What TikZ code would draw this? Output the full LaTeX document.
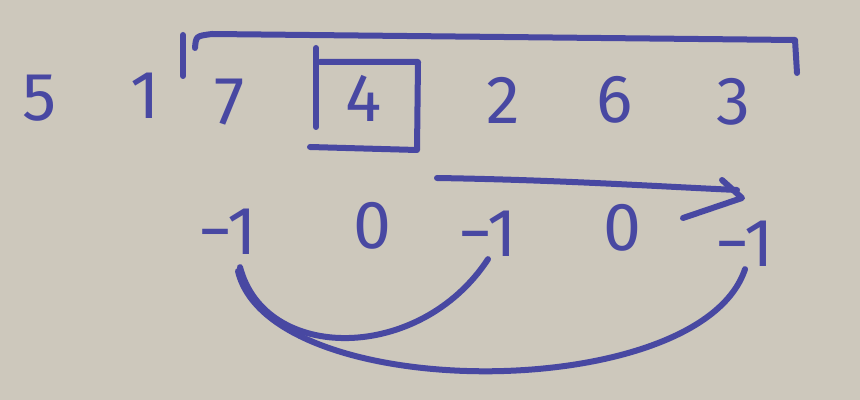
\documentclass[tikz,border=0pt]{standalone}
\usepackage{fontspec}
\setmainfont{Fira Sans}
\definecolor{board}{RGB}{205,200,188}
\definecolor{ink}{RGB}{72,72,162}
\tikzset{
  pen/.style={draw=ink,line width=3pt,line cap=round,line join=round},
  digit/.style={text=ink,font=\fontsize{34}{34}\selectfont,inner sep=1pt},
}
\begin{document}
\begin{tikzpicture}[x=0.5pt,y=-0.5pt]
	\fill[board] (0,0) rectangle (860,400);
	\useasboundingbox (0,0) rectangle (860,400);
	% array
	\node[digit] (a1) at (40,98) {5};
	\node[digit] (a2) at (145,96) {1};
	\node[digit] (a3) at (230,102) {7};
	\node[digit] (a4) at (364,98) {4};
	\node[digit] (a5) at (503,100) {2};
	\node[digit] (a6) at (615,100) {6};
	\node[digit] (a7) at (733,102) {3};
	% window bracket
	\draw[pen] (183,35) -- (183,76);
	\draw[pen] (195,48) .. controls (196,36) .. (212,34) -- (795,40) -- (797,73);
	% box round 4
	\draw[pen] (316,48) -- (316,127);
	\draw[pen] (320,62) -- (418,62) -- (417,150) -- (310,147);
	% differences
	\node[digit] (d1) at (228,232) {−1};
	\node[digit] (d2) at (372,226) {0};
	\node[digit] (d3) at (488,234) {−1};
	\node[digit] (d4) at (622,228) {0};
	\node[digit] (d5) at (745,244) {−1};
	% links
	\coordinate (arrA) at (437,178);
	\draw[pen] (arrA) .. controls (560,180) and (650,186) .. (737,190);
	\draw[pen] (722,180) -- (742,198) -- (683,218);
	\draw[pen] (d1.south) ++(12,10) .. controls (265,363) and (420,363) .. (d3.south);
	\draw[pen] (d1.south) ++(10,14) .. controls (270,405) and (700,405) .. (d5.south);
\end{tikzpicture}
\end{document}
